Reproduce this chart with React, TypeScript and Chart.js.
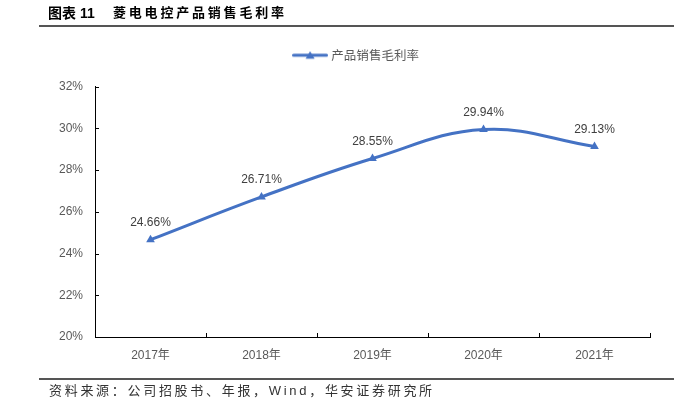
import React, { useEffect, useRef } from "react";
import { Chart, registerables } from "chart.js";

Chart.register(...registerables);

const categories = ["2017年", "2018年", "2019年", "2020年", "2021年"];
const seriesName = "产品销售毛利率";
const grossMargin = [24.66, 26.71, 28.55, 29.94, 29.13];
const yMin = 20;
const yMax = 32;
const yStep = 2;

const BLUE = "#4472C4";
const LABEL_FONT = "'Liberation Sans', Arial, 'Noto Sans CJK SC', sans-serif";

function makeLegendImage(): HTMLCanvasElement {
  const c = document.createElement("canvas");
  c.width = 36;
  c.height = 10;
  const ctx = c.getContext("2d")!;
  ctx.strokeStyle = BLUE;
  ctx.lineWidth = 3;
  ctx.lineCap = "round";
  ctx.beginPath();
  ctx.moveTo(1.5, 5);
  ctx.lineTo(34.5, 5);
  ctx.stroke();
  ctx.fillStyle = BLUE;
  ctx.beginPath();
  ctx.moveTo(18, 1);
  ctx.lineTo(22.5, 8.5);
  ctx.lineTo(13.5, 8.5);
  ctx.closePath();
  ctx.fill();
  return c;
}

const legendSpacing = {
  id: "legendSpacing",
  beforeInit(chart: any) {
    const lg = chart.legend;
    if (!lg) return;
    const orig = lg.fit;
    lg.fit = function () {
      orig.call(this);
      this.height += 15;
    };
  },
  afterLayout(chart: any) {
    const lg = chart.legend;
    if (!lg) return;
    lg.left += 32;
    lg.right += 32;
  },
};

const inwardTicks = {
  id: "inwardTicks",
  afterDraw(chart: any) {
    const ctx = chart.ctx;
    const xs = chart.scales.x;
    const ys = chart.scales.y;
    const area = chart.chartArea;
    ctx.save();
    ctx.strokeStyle = "#000";
    ctx.lineWidth = 1;
    ctx.beginPath();
    ys.ticks.forEach((_: any, i: number) => {
      const y = Math.round(ys.getPixelForTick(i)) + 0.5;
      ctx.moveTo(area.left, y);
      ctx.lineTo(area.left + 4, y);
    });
    for (let i = 0; i <= categories.length; i++) {
      const x = Math.round(xs.getPixelForValue(i - 0.5)) + 0.5;
      ctx.moveTo(x, area.bottom);
      ctx.lineTo(x, area.bottom - 4);
    }
    ctx.stroke();
    ctx.restore();
  },
};

const dataLabels = {
  id: "dataLabels",
  afterDatasetsDraw(chart: any) {
    const ctx = chart.ctx;
    const meta = chart.getDatasetMeta(0);
    const data = chart.data.datasets[0].data as number[];
    ctx.save();
    ctx.font = `12px ${LABEL_FONT}`;
    ctx.fillStyle = "#404040";
    ctx.textAlign = "center";
    ctx.textBaseline = "middle";
    meta.data.forEach((pt: any, i: number) => {
      ctx.fillText(data[i].toFixed(2) + "%", pt.x, pt.y - 17);
    });
    ctx.restore();
  },
};

export default function App() {
  const ref = useRef<HTMLCanvasElement | null>(null);

  useEffect(() => {
    document.body.style.margin = "0";
    if (!ref.current) return;
    const legendImg = makeLegendImage();
    const chart = new Chart(ref.current, {
      type: "line",
      data: {
        labels: categories,
        datasets: [
          {
            label: seriesName,
            data: grossMargin,
            borderColor: BLUE,
            backgroundColor: BLUE,
            borderWidth: 3,
            tension: 0.4,
            pointStyle: "triangle",
            pointRadius: 5,
            pointBackgroundColor: BLUE,
            pointBorderColor: BLUE,
            pointBorderWidth: 0,
            fill: false,
          },
        ],
      },
      options: {
        responsive: false,
        animation: false,
        layout: { padding: { top: 37, right: 42, bottom: 40, left: 0 } },
        plugins: {
          tooltip: { enabled: false },
          legend: {
            display: true,
            position: "top",
            labels: {
              usePointStyle: true,
              pointStyle: legendImg as any,
              pointStyleWidth: 30,
              padding: 12,
              color: "#595959",
              font: { size: 12.5, family: "'Noto Sans CJK SC', sans-serif" },
              generateLabels: () => [
                {
                  text: seriesName,
                  pointStyle: legendImg,
                  fillStyle: BLUE,
                  strokeStyle: BLUE,
                  lineWidth: 0,
                  hidden: false,
                  datasetIndex: 0,
                  fontColor: "#595959",
                } as any,
              ],
            },
          },
        },
        scales: {
          x: {
            type: "category",
            offset: true,
            grid: { display: true, drawOnChartArea: false, drawTicks: false, offset: true },
            border: { display: true, color: "#000", width: 1 },
            ticks: {
              padding: 11,
              color: "#595959",
              font: { size: 12, family: LABEL_FONT },
            },
            afterFit: (s: any) => {
              s.height = 30;
            },
          },
          y: {
            min: yMin,
            max: yMax,
            grid: { display: true, drawOnChartArea: false, drawTicks: false },
            border: { display: true, color: "#000", width: 1 },
            ticks: {
              stepSize: yStep,
              padding: 12,
              color: "#595959",
              font: { size: 12, family: LABEL_FONT },
              callback: (v: any) => `${v}%`,
            },
            afterFit: (s: any) => {
              s.width = 95;
            },
          },
        },
      },
      plugins: [legendSpacing, inwardTicks, dataLabels],
    });
    return () => chart.destroy();
  }, []);

  const cjk = "'Liberation Sans', Arial, 'Noto Sans CJK SC', sans-serif";

  return (
    <div style={{ position: "fixed", left: 0, top: 0, width: 692, height: 407, background: "#fff", overflow: "hidden" }}>
      <canvas ref={ref} width={692} height={407} style={{ position: "absolute", left: 0, top: 0, width: 692, height: 407 }} />
      <div style={{ position: "absolute", left: 48, top: 5, font: `bold 14px ${cjk}`, lineHeight: "16px", color: "#000", whiteSpace: "nowrap" }}>
        图表 11
      </div>
      <div style={{ position: "absolute", left: 113, top: 5, font: `bold 13px ${cjk}`, lineHeight: "16px", letterSpacing: "2.8px", color: "#000", whiteSpace: "nowrap" }}>
        菱电电控产品销售毛利率
      </div>
      <div style={{ position: "absolute", left: 39, top: 25, width: 635, height: 2, background: "#555" }} />
      <div style={{ position: "absolute", left: 39, top: 378, width: 635, height: 2, background: "#555" }} />
      <div style={{ position: "absolute", left: 49, top: 383, font: `13px ${cjk}`, lineHeight: "16px", letterSpacing: "2.7px", color: "#333", whiteSpace: "nowrap" }}>
        资料来源：公司招股书、年报，Wind，华安证券研究所
      </div>
    </div>
  );
}
